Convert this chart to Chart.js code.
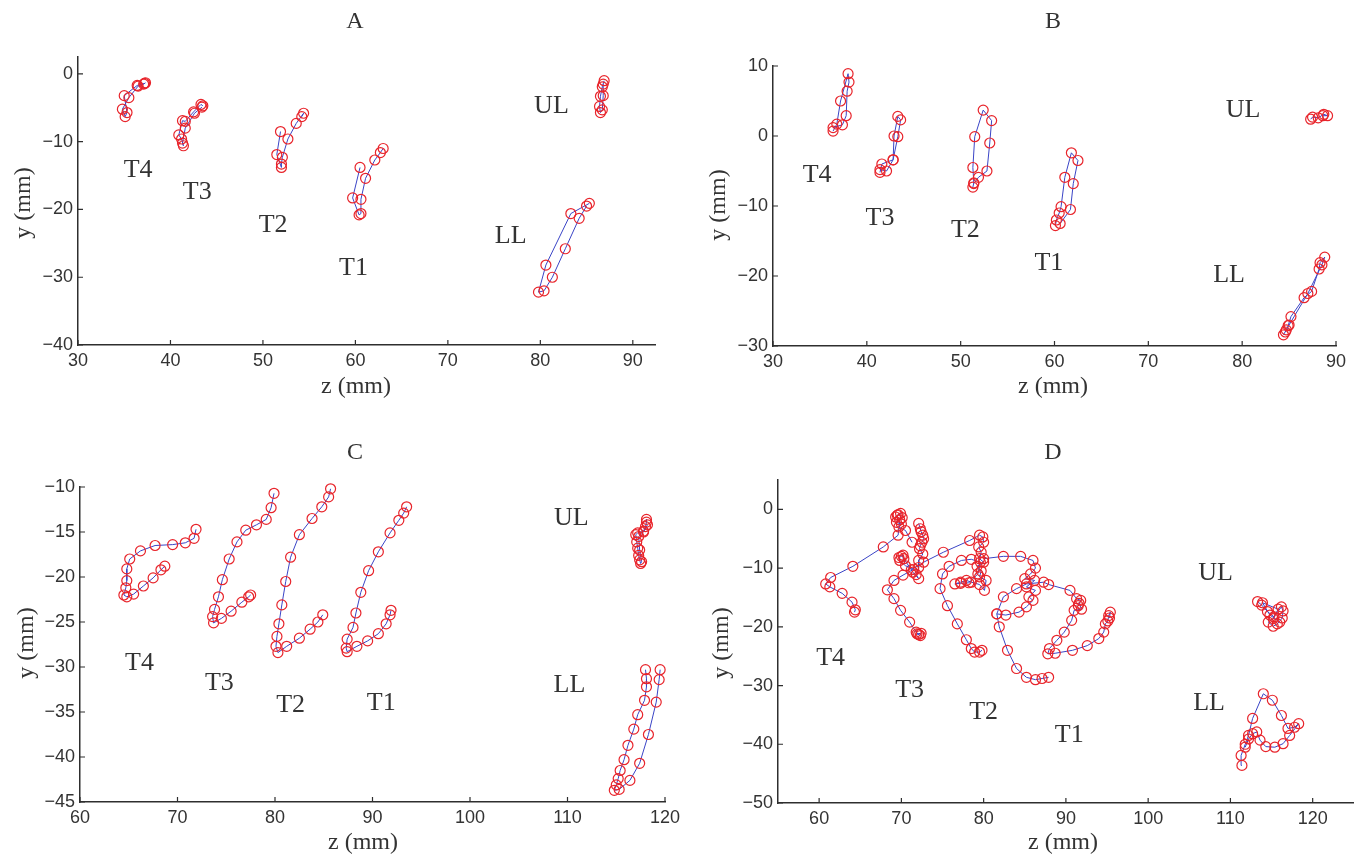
<!DOCTYPE html>
<html>
<head>
<meta charset="utf-8">
<title>Tongue and lip trajectories</title>
<script src="https://cdn.jsdelivr.net/npm/chart.js@4.4.1/dist/chart.umd.min.js"></script>
<style>
  html, body { margin: 0; padding: 0; background: #fff; }
  body { position: relative; width: 1360px; height: 855px; overflow: hidden; }
  canvas { position: absolute; }
</style>
</head>
<body>
<canvas id="chartA"></canvas>
<canvas id="chartB"></canvas>
<canvas id="chartC"></canvas>
<canvas id="chartD"></canvas>
<script>
// ===== DATA: sensor trajectories, [z, y] in mm =====
// Panel A
const aT4 = [[37.3,-1.3],[37.1,-1.5],[36.5,-1.8],[35.5,-3.5],[34.8,-5.2],[35.1,-6.3],[35.3,-5.7],[35.0,-3.2],[36.4,-1.7],[37.2,-1.4]];
const aT3 = [[43.5,-4.7],[43.3,-4.5],[42.5,-5.6],[41.6,-7.0],[41.3,-6.9],[40.9,-9.0],[41.2,-9.6],[41.4,-10.6],[41.3,-10.2],[41.6,-8.0],[42.6,-5.8],[43.4,-4.9]];
const aT2 = [[51.9,-8.5],[51.5,-11.9],[52.0,-13.8],[52.0,-13.3],[52.1,-12.3],[52.7,-9.6],[53.6,-7.3],[54.4,-5.8],[54.2,-6.3]];
const aT1 = [[60.5,-13.8],[59.7,-18.3],[60.4,-20.8],[60.6,-20.6],[60.6,-18.5],[61.1,-15.4],[62.1,-12.7],[62.7,-11.6],[63.0,-11.0]];
const aUL = [[86.9,-1.0],[86.7,-1.9],[86.5,-3.3],[86.4,-4.8],[86.5,-5.7],[86.7,-5.3],[86.8,-3.2],[86.8,-1.5]];
const aLL = [[85.3,-19.1],[83.3,-20.6],[80.6,-28.2],[79.8,-32.2],[80.4,-32.0],[81.3,-30.0],[82.7,-25.8],[84.2,-21.3],[85.0,-19.5]];
const labelsA = [['T4',36.5,-14.2],['T3',42.9,-17.5],['T2',51.1,-22.3],['T1',59.8,-28.7],['UL',81.2,-4.7],['LL',76.8,-24.0]];
const xTicksA = [30, 40, 50, 60, 70, 80, 90];
const yTicksA = [-40, -30, -20, -10, 0];

// Panel B
const bT4 = [[36.4,0.7],[36.8,1.7],[37.2,5.0],[38.0,8.9],[38.1,7.7],[37.9,6.4],[37.8,2.9],[37.4,1.6],[36.4,1.2]];
const bT3 = [[41.4,-5.2],[41.6,-4.0],[42.8,-3.4],[42.9,0.0],[43.3,2.8],[43.6,2.3],[43.3,-0.1],[42.8,-3.4],[42.1,-5.0],[41.4,-4.8]];
const bT2 = [[51.3,-7.3],[51.4,-6.7],[51.3,-4.5],[51.5,-0.1],[52.4,3.7],[53.3,2.2],[53.1,-1.0],[52.8,-5.0],[51.9,-5.9],[51.4,-6.8]];
const bT1 = [[60.1,-12.8],[60.2,-12.0],[60.5,-11.0],[60.7,-10.1],[61.1,-5.9],[61.8,-2.4],[62.5,-3.5],[62.0,-6.8],[61.7,-10.5],[60.6,-12.5]];
const bUL = [[87.3,2.4],[87.5,2.7],[88.1,2.6],[88.7,3.1],[89.1,2.9],[88.6,2.9]];
const bLL = [[84.4,-28.4],[84.7,-27.7],[84.9,-27.1],[85.2,-25.8],[86.6,-23.1],[87.4,-22.2],[88.2,-19.0],[88.3,-18.1],[88.8,-17.3],[88.5,-18.4],[87.0,-22.5],[85.0,-27.0],[84.6,-28.0]];
const labelsB = [['T4',34.7,-5.6],['T3',41.4,-11.8],['T2',50.5,-13.4],['T1',59.4,-18.1],['UL',80.1,3.7],['LL',78.6,-19.9]];
const xTicksB = [30, 40, 50, 60, 70, 80, 90];
const yTicksB = [-30, -20, -10, 0, 10];

// Panel C
const cT4 = [[71.9,-14.7],[71.7,-15.7],[70.8,-16.2],[69.5,-16.4],[67.7,-16.5],[66.2,-17.1],[65.1,-18.0],[64.8,-19.1],[64.8,-20.4],[64.7,-21.2],[64.5,-22.0],[64.8,-22.2],[65.5,-21.9],[66.5,-21.0],[67.5,-20.1],[68.3,-19.2],[68.7,-18.8]];
const cT3 = [[79.9,-10.7],[79.6,-12.3],[79.1,-13.6],[78.1,-14.2],[77.0,-14.8],[76.1,-16.1],[75.3,-18.0],[74.6,-20.3],[74.2,-22.2],[73.8,-23.6],[73.6,-24.4],[73.7,-25.1],[74.5,-24.6],[75.5,-23.8],[76.6,-22.8],[77.3,-22.2],[77.5,-22.0]];
const cT2 = [[85.7,-10.2],[85.5,-11.1],[84.8,-12.2],[83.8,-13.5],[82.5,-15.3],[81.6,-17.8],[81.1,-20.5],[80.7,-23.1],[80.4,-25.2],[80.2,-26.6],[80.1,-27.7],[80.3,-28.4],[81.2,-27.7],[82.5,-26.8],[83.6,-25.8],[84.4,-25.0],[84.9,-24.2]];
const cT1 = [[93.5,-12.2],[93.2,-12.9],[92.7,-13.7],[91.8,-15.1],[90.6,-17.2],[89.6,-19.3],[88.8,-21.7],[88.3,-24.0],[88.0,-25.6],[87.4,-26.9],[87.3,-27.9],[87.4,-28.3],[88.4,-27.7],[89.5,-27.1],[90.6,-26.3],[91.4,-25.2],[91.8,-24.2],[91.9,-23.7]];
const cUL = [[118.1,-13.6],[118.1,-13.9],[118.0,-14.4],[117.8,-14.9],[117.2,-15.1],[117.0,-15.3],[117.1,-16.1],[117.2,-16.8],[117.3,-17.6],[117.4,-18.1],[117.5,-18.5],[117.6,-18.3],[117.4,-17.0],[117.3,-15.5],[117.8,-15.0],[118.2,-14.2]];
const cLL = [[118.0,-30.3],[118.1,-31.3],[118.1,-32.2],[117.9,-33.7],[117.2,-35.3],[116.8,-36.9],[116.2,-38.7],[115.8,-40.3],[115.4,-41.5],[115.2,-42.4],[115.0,-43.1],[114.8,-43.7],[115.3,-43.6],[116.4,-42.6],[117.4,-40.7],[118.3,-37.5],[119.1,-33.9],[119.4,-31.4],[119.5,-30.3]];
const labelsC = [['T4',66.1,-29.6],['T3',74.3,-31.8],['T2',81.6,-34.2],['T1',90.9,-34.0],['UL',110.4,-13.45],['LL',110.2,-32.0]];
const xTicksC = [60, 70, 80, 90, 100, 110, 120];
const yTicksC = [-45, -40, -35, -30, -25, -20, -15, -10];

// Panel D
const dT4 = [[64.3,-17.5],[64.4,-17.1],[64.0,-15.8],[62.8,-14.3],[61.3,-13.2],[60.8,-12.7],[61.4,-11.6],[64.1,-9.7],[67.8,-6.4],[69.6,-4.4],[69.8,-1.8],[69.3,-1.3],[69.5,-1.0],[69.9,-0.7],[69.6,-0.9],[70.1,-1.4],[69.4,-2.2],[70.0,-2.5],[69.7,-3.0],[70.5,-3.6],[71.3,-5.6]];
const dT3 = [[72.1,-2.4],[72.3,-3.3],[72.4,-3.8],[72.6,-4.4],[72.7,-5.0],[72.5,-5.6],[72.3,-6.2],[72.2,-6.7],[72.6,-7.6],[72.1,-8.7],[72.1,-9.9],[71.8,-11.1],[72.1,-11.8],[71.4,-10.7],[70.3,-8.4],[70.2,-7.8],[70.0,-8.0],[69.7,-8.2],[69.8,-8.7],[70.5,-9.6],[71.5,-10.2],[70.2,-11.2],[69.1,-12.1],[68.3,-13.7],[69.1,-15.2],[69.9,-17.2],[71.0,-19.2],[71.8,-20.9],[72.1,-21.3],[72.3,-21.5],[71.9,-21.2],[72.4,-21.1]];
const dT2 = [[71.2,-10.3],[72.7,-9.0],[75.1,-7.3],[78.3,-5.3],[79.5,-4.4],[79.9,-4.7],[80.0,-5.6],[79.4,-6.4],[79.7,-7.3],[79.5,-8.4],[80.0,-9.0],[79.2,-9.7],[79.7,-10.5],[79.5,-11.5],[80.3,-12.1],[80.1,-13.8],[79.5,-12.8],[78.5,-12.4],[77.9,-12.1],[77.2,-12.4],[76.5,-12.7],[77.2,-12.6],[78.2,-12.5],[79.3,-11.0],[79.6,-9.0],[78.5,-8.5],[77.3,-8.7],[75.8,-9.7],[75.0,-11.0],[74.7,-13.5],[75.6,-16.4],[76.8,-19.5],[77.9,-22.2],[78.5,-23.7],[78.9,-24.3],[79.5,-24.3],[79.8,-24.0]];
const dT1 = [[80.0,-8.4],[82.4,-8.0],[84.5,-8.0],[86.0,-8.7],[86.3,-10.0],[85.7,-11.0],[85.0,-11.8],[86.2,-12.1],[85.2,-13.2],[86.3,-13.8],[85.5,-14.9],[86.0,-15.5],[85.2,-16.6],[84.3,-17.5],[82.7,-18.0],[81.6,-17.8],[82.4,-14.9],[84.0,-13.5],[85.2,-12.7],[87.3,-12.4],[87.9,-12.8],[90.5,-13.8],[91.3,-15.2],[91.8,-15.5],[91.5,-16.4],[91.6,-16.0],[91.9,-17.0],[91.0,-17.2],[90.7,-18.9],[89.8,-20.9],[88.9,-22.3],[88.0,-23.7],[87.8,-24.6],[88.7,-24.5],[90.8,-24.0],[92.6,-23.2],[94.0,-22.0],[94.6,-20.9],[94.8,-19.5],[95.1,-19.0],[95.2,-18.1],[95.4,-17.5],[95.3,-18.5]];
const dT1Drop = [[81.6,-17.8],[81.9,-20.0],[82.9,-24.0],[84.0,-27.1],[85.2,-28.6],[86.3,-29.0],[87.1,-28.8],[87.9,-28.6]];
const dUL = [[113.3,-15.7],[113.8,-16.3],[114.5,-17.4],[115.3,-18.3],[116.2,-16.6],[116.4,-17.3],[116.3,-18.5],[115.7,-19.5],[115.2,-19.9],[114.6,-19.2],[115.2,-18.6],[115.8,-17.0],[113.9,-15.9],[114.8,-18.0],[116.0,-19.2]];
const dLL = [[111.4,-43.6],[111.3,-41.9],[111.8,-40.0],[112.2,-38.5],[112.7,-35.6],[114.0,-31.4],[115.1,-32.5],[116.2,-35.1],[117.0,-37.3],[117.8,-37.1],[118.3,-36.5],[117.2,-38.5],[116.4,-39.9],[115.4,-40.5],[114.3,-40.4],[113.6,-39.3],[113.2,-37.9],[112.7,-38.2],[112.2,-39.1],[111.8,-40.5]];
const labelsD = [['T4',61.4,-25.4],['T3',71.0,-30.8],['T2',80.0,-34.5],['T1',90.4,-38.5],['UL',108.2,-10.8],['LL',107.4,-33.0]];
const xTicksD = [60, 70, 80, 90, 100, 110, 120];
const yTicksD = [-50, -40, -30, -20, -10, 0];

// ===== STYLE =====
const SERIF = '"Liberation Serif", "Times New Roman", serif';
const TICK_FONT = '"Liberation Sans Narrow", "Liberation Sans", Arial, sans-serif';
const MARK_RED = '#e8242b';
const LINE_BLUE = '#3a44c6';
const AXIS_GREY = '#2e2e2e';
const Y_W = 50;   // width reserved for y tick labels
const X_H = 30;   // height reserved for x tick labels

// page-pixel layout of each panel: canvas box and plot area [left, top, right, bottom]
const panels = [
  { id: 'chartA', box: [0, 0, 680, 427], area: [78, 57, 655, 345], xr: [30, 92.4], yr: [-40, 2.5], xt: xTicksA, yt: yTicksA,
    title: ['A', 355, 22], xTitle: [356, 387], yTitle: [24, 203], series: [aT4, aT3, aT2, aT1, aUL, aLL], labels: labelsA },
  { id: 'chartB', box: [680, 0, 680, 427], area: [773, 66, 1336, 346], xr: [30, 90], yr: [-30, 10], xt: xTicksB, yt: yTicksB,
    title: ['B', 1053, 22], xTitle: [1053, 387], yTitle: [719, 205], series: [bT4, bT3, bT2, bT1, bUL, bLL], labels: labelsB },
  { id: 'chartC', box: [0, 427, 700, 428], area: [80, 487, 665, 802], xr: [60, 120], yr: [-45, -10], xt: xTicksC, yt: yTicksC,
    title: ['C', 355, 453], xTitle: [363, 843], yTitle: [27, 643], series: [cT4, cT3, cT2, cT1, cUL, cLL], labels: labelsC },
  { id: 'chartD', box: [680, 427, 680, 428], area: [778, 480, 1357, 803], xr: [55, 125], yr: [-50, 5], xt: xTicksD, yt: yTicksD,
    title: ['D', 1053, 453], xTitle: [1063, 843], yTitle: [722, 643], series: [dT4, dT3, dT2, dT1, dT1Drop, dUL, dLL], labels: labelsD }
];

const fmtTick = v => (v < 0 ? '\u2212' + Math.abs(v) : String(v));

// inward ticks, panel/axis titles and region labels
const panelText = {
  id: 'panelText',
  afterDraw(chart, args, o) {
    const { ctx, chartArea: a } = chart;
    const xs = chart.scales.x, ys = chart.scales.y;
    ctx.save();
    ctx.strokeStyle = AXIS_GREY;
    ctx.lineWidth = 1.2;
    ctx.beginPath();
    xs.ticks.forEach(t => { const p = xs.getPixelForValue(t.value); ctx.moveTo(p, a.bottom); ctx.lineTo(p, a.bottom - 5); });
    ys.ticks.forEach(t => { const p = ys.getPixelForValue(t.value); ctx.moveTo(a.left, p); ctx.lineTo(a.left + 5, p); });
    ctx.stroke();

    ctx.fillStyle = '#333';
    ctx.textAlign = 'center';
    ctx.textBaseline = 'middle';
    ctx.font = `26px ${SERIF}`;
    o.labels.forEach(([txt, zv, yv]) => ctx.fillText(txt, xs.getPixelForValue(zv), ys.getPixelForValue(yv)));

    const [bx, by] = o.origin;
    ctx.font = `24px ${SERIF}`;
    ctx.fillText(o.title[0], o.title[1] - bx, o.title[2] - by);
    ctx.fillText('z (mm)', o.xTitle[0] - bx, o.xTitle[1] - by);
    ctx.translate(o.yTitle[0] - bx, o.yTitle[1] - by);
    ctx.rotate(-Math.PI / 2);
    ctx.fillText('y (mm)', 0, 0);
    ctx.restore();
  }
};

panels.forEach(p => {
  const [bl, bt, bw, bh] = p.box;
  const [al, at, ar, ab] = p.area;
  const cv = document.getElementById(p.id);
  cv.width = bw; cv.height = bh;
  cv.style.left = bl + 'px'; cv.style.top = bt + 'px';
  cv.style.width = bw + 'px'; cv.style.height = bh + 'px';

  const axisBase = {
    type: 'linear',
    grid: { display: true, drawOnChartArea: false, drawTicks: false },
    border: { display: true, color: AXIS_GREY, width: 1.5 }
  };
  const tickBase = { color: '#333', font: { family: TICK_FONT, size: 18 }, callback: fmtTick, autoSkip: false, maxRotation: 0, padding: 5 };

  new Chart(cv, {
    type: 'scatter',
    data: {
      datasets: p.series.map(s => ({
        data: s.map(([z, y]) => ({ x: z, y: y })),
        showLine: true, tension: 0, clip: false,
        borderColor: LINE_BLUE, borderWidth: 1,
        pointRadius: 5, pointBorderWidth: 1.2,
        pointBorderColor: MARK_RED, pointBackgroundColor: 'rgba(0,0,0,0)'
      }))
    },
    options: {
      responsive: false, animation: false, devicePixelRatio: 1, events: [],
      layout: { padding: { left: al - bl - Y_W, top: at - bt, right: bl + bw - ar, bottom: bt + bh - ab - X_H } },
      scales: {
        x: { ...axisBase, min: p.xr[0], max: p.xr[1],
             afterFit: s => { s.height = X_H; },
             afterBuildTicks: s => { s.ticks = p.xt.map(v => ({ value: v })); },
             ticks: tickBase },
        y: { ...axisBase, min: p.yr[0], max: p.yr[1],
             afterFit: s => { s.width = Y_W; },
             afterBuildTicks: s => { s.ticks = p.yt.map(v => ({ value: v })); },
             ticks: tickBase }
      },
      plugins: {
        legend: { display: false },
        tooltip: { enabled: false },
        panelText: { origin: [bl, bt], title: p.title, xTitle: p.xTitle, yTitle: p.yTitle, labels: p.labels }
      }
    },
    plugins: [panelText]
  });
});
</script>
</body>
</html>
